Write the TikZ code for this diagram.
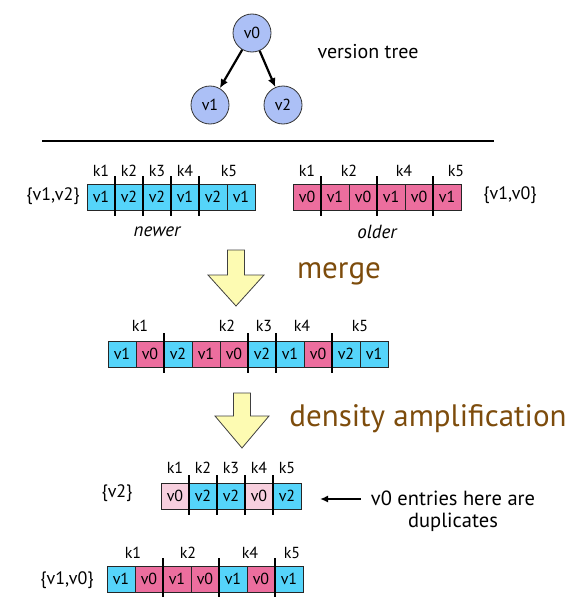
\documentclass[tikz,border=0pt]{standalone}
\usepackage{fontspec}
\setmainfont{PT Sans}
\usetikzlibrary{arrows.meta}
\definecolor{treefill}{RGB}{172,192,246}
\definecolor{cyanc}{RGB}{85,212,250}
\definecolor{pinkc}{RGB}{236,110,158}
\definecolor{lpinkc}{RGB}{247,207,222}
\definecolor{yelc}{RGB}{253,251,178}
\definecolor{brownc}{RGB}{125,76,12}
\newcommand{\fs}[1]{\fontsize{#1}{#1}\selectfont}
\tikzset{
  vnode/.style={circle, draw=black!80, line width=0.8pt, fill=treefill, minimum size=38pt, inner sep=0pt, font=\fs{16}},
  tarrow/.style={-{Latex[length=9pt,width=8pt]}, line width=2.2pt},
  cell/.style={draw=black!85, line width=0.8pt, minimum width=28pt, minimum height=26pt, inner sep=0pt, outer sep=0pt, font=\fs{16}},
  sepline/.style={line width=2.2pt, black},
  klab/.style={inner sep=0pt, font=\fs{16}},
  lab/.style={inner sep=0pt, font=\fs{18}},
  big/.style={inner sep=0pt, font=\fs{31}, text=brownc},
  blockarrow/.style={draw=black!75, line width=0.8pt, fill=yelc, line join=miter},
}
\newcommand{\cellrow}[4]{% name, x0, yc, list color/text
  \foreach \c/\t [count=\i] in {#4} {
    \node[cell, fill=\c] (#1-\i) at ({#2+14+28*(\i-1)}, #3) {\t};
  }}
\newcommand{\seps}[2]{% name, list of indices
  \foreach \i in {#2} {
    \draw[sepline] ([yshift=8pt]#1-\i.north east) -- ([yshift=-6pt]#1-\i.south east);
  }}
\begin{document}
\begin{tikzpicture}[x=1pt,y=-1pt]
\useasboundingbox (0,0) rectangle (568,597);

% version tree
\node[vnode] (v0) at (252,33) {v0};
\node[vnode] (v1) at (210,105) {v1};
\node[vnode] (v2) at (283,105) {v2};
\draw[tarrow] (v0) -- (v1);
\draw[tarrow] (v0) -- (v2);
\node[lab, font=\fs{20}] (vt) at (368,52) {version tree};

% divider
\coordinate (hl) at (42,141);
\coordinate (hr) at (494,141);
\draw[line width=1.2pt] (hl) -- (hr);

% newer row
\cellrow{n}{87}{197}{cyanc/v1,cyanc/v2,cyanc/v2,cyanc/v1,cyanc/v2,cyanc/v1}
\seps{n}{1,2,3,4}
\node[klab] (nk1) at (101,171) {k1};
\node[klab] (nk2) at (129,171) {k2};
\node[klab] (nk3) at (157,171) {k3};
\node[klab] (nk4) at (185,171) {k4};
\node[klab] (nk5) at (229,171) {k5};
\node[lab] (nset) at (53,196) {\{v1,v2\}};
\node[lab, font=\fs{19}\itshape] (newer) at (157,232) {newer};

% older row
\cellrow{o}{293}{197}{pinkc/v0,pinkc/v1,pinkc/v0,pinkc/v1,pinkc/v0,pinkc/v1}
\seps{o}{1,3,5}
\node[klab] (ok1) at (307,171) {k1};
\node[klab] (ok2) at (349,171) {k2};
\node[klab] (ok4) at (404,171) {k4};
\node[klab] (ok5) at (456,171) {k5};
\node[lab] (oset) at (510,195) {\{v1,v0\}};
\node[lab, font=\fs{19}\itshape] (older) at (377,232) {older};

% merge arrow
\draw[blockarrow] (227.5,250) -- (244.5,250) -- (244.5,275) -- (264,275) -- (236,306) -- (208,275) -- (227.5,275) -- cycle;
\node[big] (merge) at (339,274) {merge};

% merged row
\cellrow{m}{108}{354}{cyanc/v1,pinkc/v0,cyanc/v2,pinkc/v1,pinkc/v0,cyanc/v2,cyanc/v1,pinkc/v0,cyanc/v2,cyanc/v1}
\seps{m}{2,5,6,8}
\node[klab] (mk1) at (140,326) {k1};
\node[klab] (mk2) at (227,326) {k2};
\node[klab] (mk3) at (264,326) {k3};
\node[klab] (mk4) at (302,326) {k4};
\node[klab] (mk5) at (360,326) {k5};

% density arrow
\draw[blockarrow] (233.5,393) -- (250.5,393) -- (250.5,416) -- (269,416) -- (242,448) -- (215,416) -- (233.5,416) -- cycle;
\node[big] (dens) at (428,419) {density amplification};

% row v2
\cellrow{d}{161}{496}{lpinkc/v0,cyanc/v2,cyanc/v2,lpinkc/v0,cyanc/v2}
\seps{d}{1,2,3,4}
\node[klab] (dk1) at (175,468) {k1};
\node[klab] (dk2) at (203,468) {k2};
\node[klab] (dk3) at (231,468) {k3};
\node[klab] (dk4) at (259,468) {k4};
\node[klab] (dk5) at (287,468) {k5};
\node[lab] (dset) at (117,493) {\{v2\}};
\node[lab, font=\fs{20.5}] (dup1) at (453,498) {v0 entries here are};
\node[lab, font=\fs{20.5}] (dup2) at (453,522) {duplicates};
\coordinate (dupend) at (320,499);
\draw[tarrow, -{Latex[length=8pt,width=7pt]}, line width=1.8pt] ([xshift=-10pt,yshift=-1pt]dup1.west) -- (dupend);

% row v1,v0
\cellrow{e}{107}{579}{cyanc/v1,pinkc/v0,pinkc/v1,pinkc/v0,cyanc/v1,pinkc/v0,cyanc/v1}
\seps{e}{2,4,6}
\node[klab] (ek1) at (133,553) {k1};
\node[klab] (ek2) at (188,553) {k2};
\node[klab] (ek4) at (250,553) {k4};
\node[klab] (ek5) at (292,553) {k5};
\node[lab] (eset) at (67,580) {\{v1,v0\}};
\end{tikzpicture}
\end{document}
